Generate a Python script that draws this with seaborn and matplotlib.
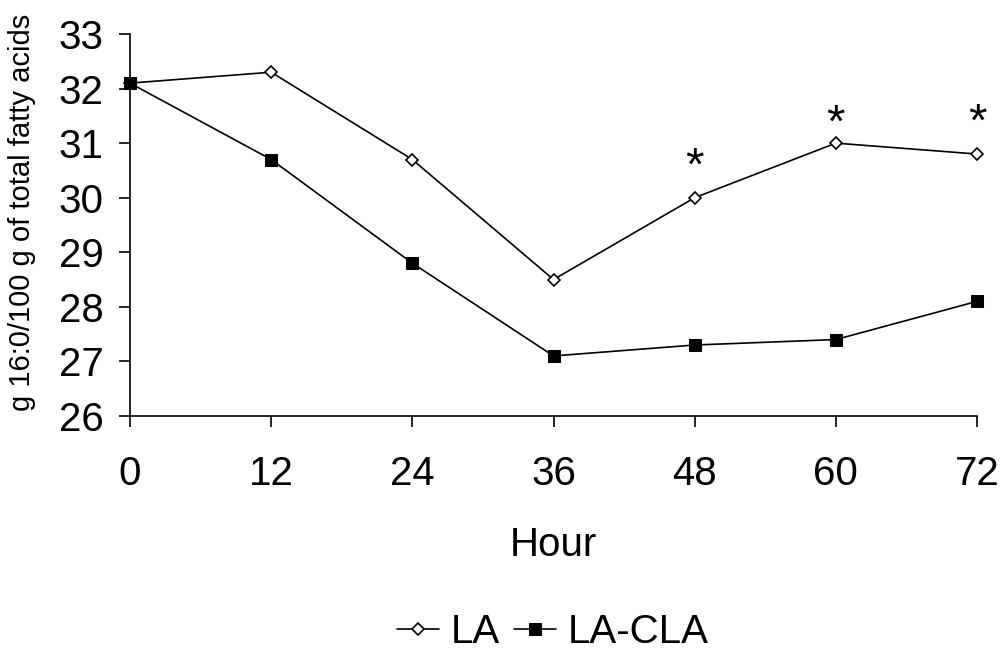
import pandas as pd
import matplotlib.pyplot as plt
import seaborn as sns

# data
hours = [0, 12, 24, 36, 48, 60, 72]
la = [32.1, 32.3, 30.7, 28.5, 30.0, 31.0, 30.8]
la_cla = [32.1, 30.7, 28.8, 27.1, 27.3, 27.4, 28.1]
star_hours = [48, 60, 72]
star_y = [30.73, 31.52, 31.54]

df = pd.DataFrame({
    "Hour": hours * 2,
    "value": la + la_cla,
    "group": ["LA"] * len(hours) + ["LA-CLA"] * len(hours),
})

sns.set_style("white")
plt.rcParams['font.family'] = ['Liberation Sans', 'DejaVu Sans']
plt.rcParams['text.color'] = 'black'
plt.rcParams['axes.labelcolor'] = 'black'
plt.rcParams['xtick.color'] = 'black'
plt.rcParams['ytick.color'] = 'black'

fig = plt.figure(figsize=(10.03, 6.54), dpi=100)
ax = fig.add_axes([0.1296, 0.364, 0.8445, 0.584])

sns.lineplot(data=df[df.group == "LA"], x="Hour", y="value", ax=ax,
             color="black", linewidth=1.2, marker="D", markersize=6,
             markerfacecolor="white", markeredgecolor="black",
             markeredgewidth=1.2, label="LA", clip_on=False)
sns.lineplot(data=df[df.group == "LA-CLA"], x="Hour", y="value", ax=ax,
             color="black", linewidth=1.2, marker="s", markersize=8,
             markerfacecolor="black", markeredgecolor="black",
             label="LA-CLA", clip_on=False)

# significance markers (star_y = visual centre of the asterisk)
for h, y in zip(star_hours, star_y):
    ax.text(h, y - 0.40, "*", ha="center", va="baseline", fontsize=34)

ax.set_xlim(0, 72)
ax.set_ylim(26, 33)
ax.set_xticks(hours)
ax.set_yticks(range(26, 34))
ax.tick_params(axis="both", direction="out", length=8, width=1.2,
               labelsize=29, bottom=True, left=True)
ax.tick_params(axis="x", pad=20)
ax.tick_params(axis="y", pad=11)

sns.despine(ax=ax)
for s in ["left", "bottom"]:
    ax.spines[s].set_color("black")
    ax.spines[s].set_linewidth(1.2)

ax.set_xlabel("Hour", fontsize=29, labelpad=24)
ax.set_ylabel("g 16:0/100 g of total fatty acids", fontsize=21)
ax.yaxis.set_label_coords(-0.111, 0.534)

ax.get_legend().remove()
h, l = ax.get_legend_handles_labels()
fig.legend(h, l, loc="center", bbox_to_anchor=(0.551, 1 - 632 / 654), ncol=2,
           frameon=False, fontsize=29, handlelength=1.05, handletextpad=0.28,
           columnspacing=0.35, borderpad=0, borderaxespad=0)

fig.savefig("out.png", dpi=100)
